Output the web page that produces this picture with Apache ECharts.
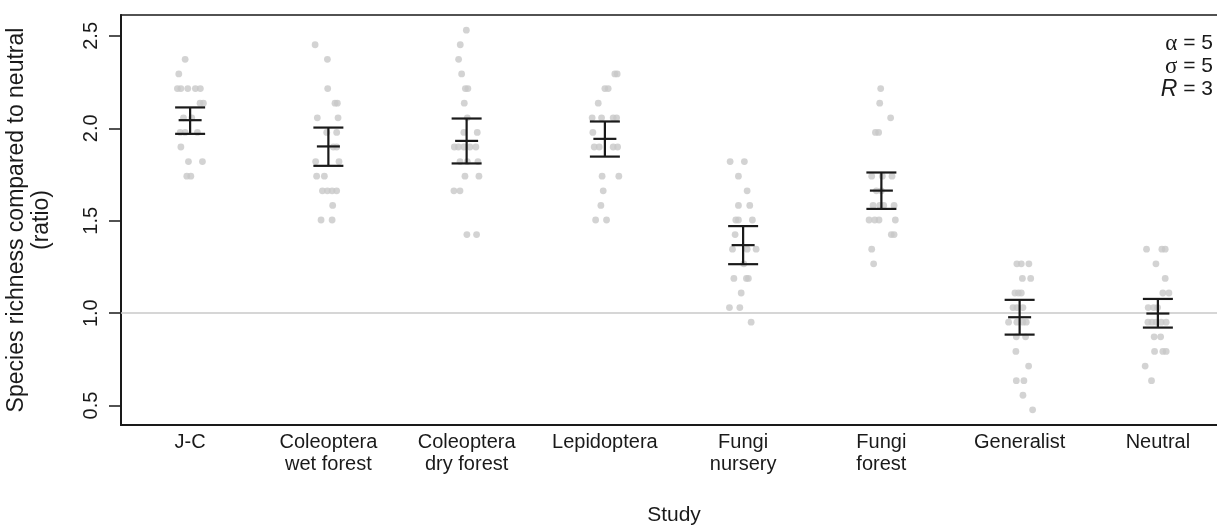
<!DOCTYPE html>
<html><head><meta charset="utf-8">
<script src="https://cdn.jsdelivr.net/npm/echarts@6/dist/echarts.min.js"></script>
<style>html,body{margin:0;padding:0;background:#fff}#c{width:1217px;height:531px}</style>
</head><body><div id="c"></div>
<script>
// ---------- data ----------
const categories = ['J-C', 'Coleoptera\nwet forest', 'Coleoptera\ndry forest', 'Lepidoptera',
  'Fungi\nnursery', 'Fungi\nforest', 'Generalist', 'Neutral'];

const jcValues = [2.373,2.294,2.215,2.215,2.215,2.215,2.215,2.136,2.136,2.057,2.057,1.978,1.978,1.978,1.899,1.820,1.820,1.741,1.741];
const jcJitter = [-0.036,-0.082,-0.092,-0.067,-0.017,0.038,0.074,0.072,0.096,-0.048,0.012,-0.072,-0.036,0.053,-0.067,-0.012,0.089,-0.024,0.005];

const colWetValues = [2.452,2.373,2.215,2.136,2.136,2.057,2.057,1.978,1.978,1.899,1.899,1.820,1.820,1.741,1.741,1.662,1.662,1.662,1.662,1.583,1.504,1.504];
const colWetJitter = [-0.096,-0.007,-0.005,0.048,0.065,-0.080,0.070,-0.012,0.060,0.036,0.060,-0.092,0.077,-0.085,-0.029,-0.043,-0.007,0.027,0.060,0.031,-0.053,0.027];

const colDryValues = [2.531,2.452,2.373,2.294,2.215,2.215,2.136,2.057,1.978,1.978,1.899,1.899,1.899,1.899,1.899,1.820,1.820,1.820,1.741,1.741,1.662,1.662,1.425,1.425];
const colDryJitter = [-0.002,-0.046,-0.058,-0.036,-0.009,0.009,-0.017,0.005,-0.020,0.077,-0.089,-0.060,-0.020,0.024,0.067,-0.048,0.005,0.082,-0.012,0.089,-0.092,-0.048,0.002,0.072];

const lepValues = [2.294,2.294,2.215,2.215,2.136,2.057,2.057,2.057,2.057,1.978,1.899,1.899,1.899,1.899,1.741,1.741,1.662,1.583,1.504,1.504];
const lepJitter = [0.072,0.089,0,0.024,-0.048,-0.092,-0.024,0.060,0.085,-0.087,-0.077,-0.041,0.060,0.092,-0.020,0.101,-0.012,-0.029,-0.067,0.012];

const fungiNurseryValues = [1.820,1.820,1.741,1.662,1.583,1.583,1.504,1.504,1.504,1.425,1.346,1.346,1.346,1.267,1.188,1.188,1.188,1.109,1.030,1.030,0.951];
const fungiNurseryJitter = [-0.094,0.009,-0.034,0.029,-0.034,0.048,-0.053,-0.034,0.067,-0.058,-0.077,0.029,0.094,0.005,-0.067,0.024,0.038,-0.014,-0.099,-0.024,0.058];

const fungiForestValues = [2.215,2.136,2.057,1.978,1.978,1.741,1.741,1.741,1.662,1.662,1.583,1.583,1.583,1.583,1.504,1.504,1.504,1.504,1.425,1.425,1.346,1.267];
const fungiForestJitter = [-0.005,-0.012,0.067,-0.043,-0.020,-0.070,0.007,0.077,-0.036,0,-0.060,-0.012,0.017,0.092,-0.089,-0.048,-0.017,0.101,0.072,0.092,-0.070,-0.056];

const generalistValues = [1.267,1.267,1.267,1.188,1.188,1.109,1.109,1.109,1.030,1.030,1.030,0.951,0.951,0.951,0.951,0.872,0.872,0.793,0.714,0.635,0.635,0.556,0.477];
const generalistJitter = [-0.020,0.012,0.067,0.020,0.080,-0.034,-0.009,0.012,-0.048,-0.020,0.024,-0.080,-0.020,0.024,0.048,-0.024,0.043,-0.027,0.065,-0.024,0.031,0.024,0.094];

const neutralValues = [1.346,1.346,1.346,1.267,1.188,1.109,1.109,1.030,1.030,1.030,0.951,0.951,0.951,0.951,0.951,0.872,0.872,0.793,0.793,0.793,0.714,0.635];
const neutralJitter = [-0.082,0.029,0.053,-0.014,0.053,0.036,0.080,-0.070,-0.031,-0.002,-0.072,-0.043,-0.012,0.024,0.060,-0.027,0.020,-0.024,0.036,0.060,-0.092,-0.046];

const meanValues  = [2.044, 1.902, 1.932, 1.943, 1.368, 1.663, 0.978, 0.998];
const lowerValues = [1.970, 1.797, 1.810, 1.847, 1.265, 1.564, 0.884, 0.922];
const upperValues = [2.113, 2.004, 2.053, 2.037, 1.471, 1.761, 1.072, 1.077];

const yTicks = [0.5, 1.0, 1.5, 2.0, 2.5];
const referenceValue = 1.0;
const paramLines = [['α', '5'], ['σ', '5'], ['R', '3']];

// ---------- build ----------
const groupValues = [jcValues, colWetValues, colDryValues, lepValues, fungiNurseryValues, fungiForestValues, generalistValues, neutralValues];
const groupJitter = [jcJitter, colWetJitter, colDryJitter, lepJitter, fungiNurseryJitter, fungiForestJitter, generalistJitter, neutralJitter];
const points = [];
groupValues.forEach((vals, i) => vals.forEach((v, k) => points.push([i + groupJitter[i][k], v])));
const bars = meanValues.map((m, i) => [i, m, lowerValues[i], upperValues[i]]);

const FONT = 'Liberation Sans, Arial, Helvetica, sans-serif';
const INK = '#1a1a1a';
const chart = echarts.init(document.getElementById('c'), null, {renderer: 'canvas'});

chart.setOption({
  animation: false,
  backgroundColor: '#fff',
  grid: {left: 121, top: 15, width: 1106, height: 410, outerBoundsMode: 'none', containLabel: false,
    show: true, borderColor: INK, borderWidth: 1.5},
  xAxis: [{
    type: 'category', data: categories, boundaryGap: true,
    axisLine: {onZero: false, lineStyle: {color: INK, width: 2}},
    axisTick: {alignWithLabel: true, length: 10, lineStyle: {color: INK, width: 1.5}},
    axisLabel: {interval: 0, margin: 6, color: INK, fontSize: 20, lineHeight: 22, fontFamily: FONT},
    name: 'Study', nameLocation: 'middle', nameGap: 80,
    nameTextStyle: {color: INK, fontSize: 21, fontFamily: FONT}
  }, {
    type: 'value', min: -0.5, max: 7.5, show: false
  }],
  yAxis: {
    type: 'value', min: 0.395, max: 2.613,
    splitLine: {show: false},
    axisLine: {show: true, onZero: false, lineStyle: {color: INK, width: 2}},
    axisTick: {show: true, length: 12, customValues: yTicks, lineStyle: {color: INK, width: 1.5}},
    axisLabel: {customValues: yTicks, rotate: 90, margin: 20, color: INK, fontSize: 20, fontFamily: FONT,
      formatter: v => Number(v).toFixed(1)},
    name: 'Species richness compared to neutral\n(ratio)', nameLocation: 'middle', nameRotate: 90, nameGap: 67,
    nameTextStyle: {color: INK, fontSize: 23, lineHeight: 25, fontFamily: FONT}
  },
  graphic: paramLines.map((p, i) => ({
    type: 'text', right: 4, top: 32 + i * 23, z: 10,
    style: {
      text: '{s|' + p[0] + '}{n| = ' + p[1] + '}',
      rich: {
        s: {fontFamily: i === 2 ? FONT : 'Liberation Serif, DejaVu Serif, serif', fontStyle: i === 2 ? 'italic' : 'normal', fontSize: 23, fill: INK, fontWeight: 'normal'},
        n: {fontFamily: FONT, fontSize: 21, fill: INK}
      }
    }
  })),
  series: [{
    type: 'scatter', xAxisIndex: 1, data: points, symbol: 'circle', symbolSize: 6.8,
    itemStyle: {color: '#c8c8c8'}, z: 2, silent: true,
    markLine: {silent: true, symbol: 'none', label: {show: false},
      lineStyle: {color: '#c8c8c8', width: 1.5, type: 'solid'}, data: [{yAxis: referenceValue}]}
  }, {
    type: 'custom', xAxisIndex: 1, data: bars, z: 5, silent: true,
    renderItem: (params, api) => {
      const x = api.value(0);
      const m = api.coord([x, api.value(1)]);
      const lo = api.coord([x, api.value(2)]);
      const hi = api.coord([x, api.value(3)]);
      const st = {stroke: INK, lineWidth: 2.2};
      const cap = 15, mh = 11.5;
      return {type: 'group', children: [
        {type: 'line', shape: {x1: lo[0], y1: lo[1], x2: hi[0], y2: hi[1]}, style: st},
        {type: 'line', shape: {x1: hi[0] - cap, y1: hi[1], x2: hi[0] + cap, y2: hi[1]}, style: st},
        {type: 'line', shape: {x1: lo[0] - cap, y1: lo[1], x2: lo[0] + cap, y2: lo[1]}, style: st},
        {type: 'line', shape: {x1: m[0] - mh, y1: m[1], x2: m[0] + mh, y2: m[1]}, style: st}
      ]};
    }
  }]
});
</script></body></html>
